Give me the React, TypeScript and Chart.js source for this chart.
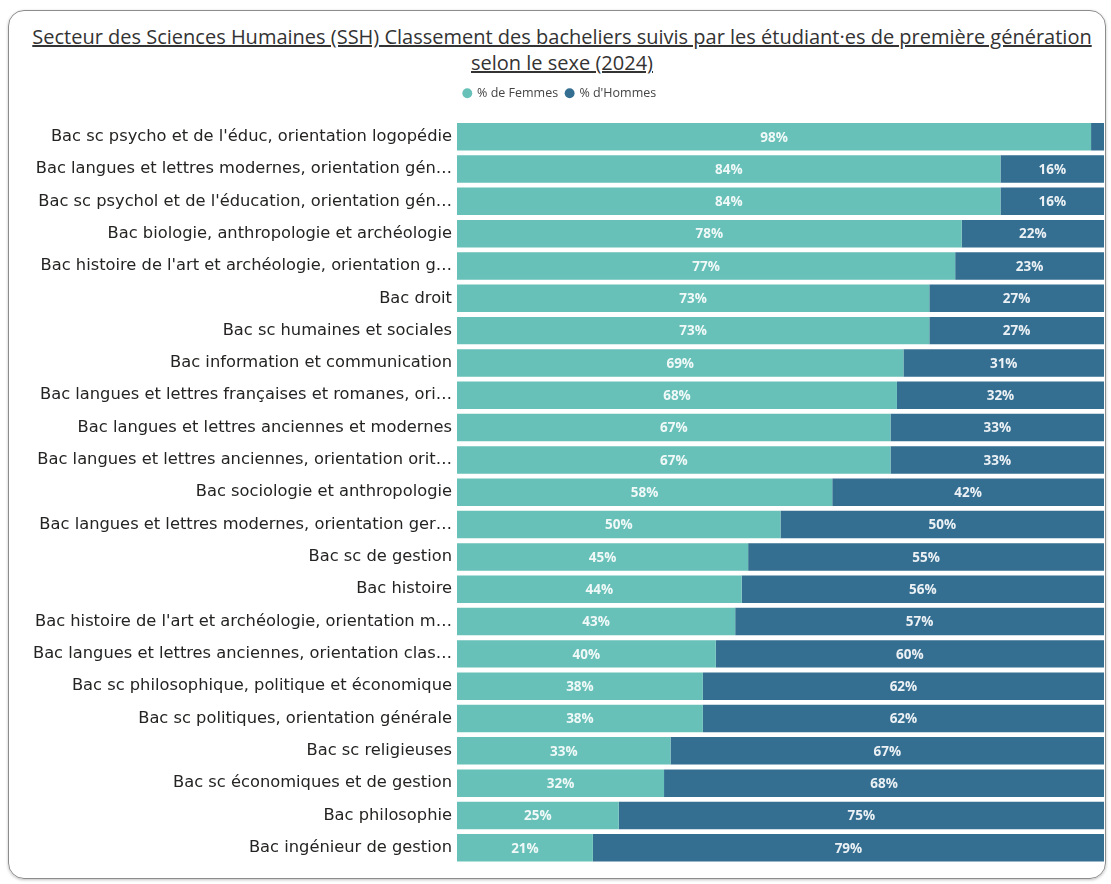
import React, { useEffect, useRef } from "react";
import { Chart, registerables } from "chart.js";

Chart.register(...registerables);

const titleLine1 =
  "Secteur des Sciences Humaines (SSH) Classement des bacheliers suivis par les étudiant·es de première génération";
const titleLine2 = "selon le sexe (2024)";

const categories = [
  "Bac sc psycho et de l'éduc, orientation logopédie",
  "Bac langues et lettres modernes, orientation gén…",
  "Bac sc psychol et de l'éducation, orientation gén…",
  "Bac biologie, anthropologie et archéologie",
  "Bac histoire de l'art et archéologie, orientation g…",
  "Bac droit",
  "Bac sc humaines et sociales",
  "Bac information et communication",
  "Bac langues et lettres françaises et romanes, ori…",
  "Bac langues et lettres anciennes et modernes",
  "Bac langues et lettres anciennes, orientation orit…",
  "Bac sociologie et anthropologie",
  "Bac langues et lettres modernes, orientation ger…",
  "Bac sc de gestion",
  "Bac histoire",
  "Bac histoire de l'art et archéologie, orientation m…",
  "Bac langues et lettres anciennes, orientation clas…",
  "Bac sc philosophique, politique et économique",
  "Bac sc politiques, orientation générale",
  "Bac sc religieuses",
  "Bac sc économiques et de gestion",
  "Bac philosophie",
  "Bac ingénieur de gestion",
];

const femmes = [98, 84, 84, 78, 77, 73, 73, 69, 68, 67, 67, 58, 50, 45, 44, 43, 40, 38, 38, 33, 32, 25, 21];
const hommes = [2, 16, 16, 22, 23, 27, 27, 31, 32, 33, 33, 42, 50, 55, 56, 57, 60, 62, 62, 67, 68, 75, 79];

const seriesLabels = ["% de Femmes", "% d'Hommes"];
const seriesColors = ["#67C1B8", "#346E91"];

const barLabelPlugin = {
  id: "barLabels",
  afterDatasetsDraw(chart: any) {
    const ctx = chart.ctx;
    ctx.save();
    ctx.font = "bold 13.5px 'Open Sans'";
    ctx.fillStyle = "rgba(255,255,255,0.9)";
    ctx.textAlign = "center";
    ctx.textBaseline = "middle";
    chart.data.datasets.forEach((ds: any, di: number) => {
      const meta = chart.getDatasetMeta(di);
      meta.data.forEach((bar: any, i: number) => {
        const v = ds.data[i];
        const { x, base, y } = bar.getProps(["x", "base", "y"], true);
        const w = Math.abs(x - base);
        if (w < 30) return;
        ctx.fillText(v + "%", (x + base) / 2, y + 1);
      });
    });
    ctx.restore();
  },
};

const legendMarginPlugin = {
  id: "legendMargin",
  beforeInit(chart: any) {
    const legend = chart.legend;
    if (!legend) return;
    const origFit = legend.fit;
    legend.fit = function () {
      origFit.call(this);
      this.height += 11;
    };
  },
};

export default function App() {
  const canvasRef = useRef<HTMLCanvasElement | null>(null);

  useEffect(() => {
    document.body.style.margin = "0";
    document.body.style.overflow = "hidden";
    const canvas = canvasRef.current;
    if (!canvas) return;
    const chart = new Chart(canvas, {
      type: "bar",
      data: {
        labels: categories,
        datasets: [
          {
            label: seriesLabels[0],
            data: femmes,
            backgroundColor: seriesColors[0],
            barPercentage: 1,
            categoryPercentage: 0.85,
          },
          {
            label: seriesLabels[1],
            data: hommes,
            backgroundColor: seriesColors[1],
            barPercentage: 1,
            categoryPercentage: 0.85,
          },
        ],
      },
      options: {
        indexAxis: "y",
        animation: false,
        responsive: true,
        maintainAspectRatio: false,
        layout: { padding: { top: 79, left: 16, right: 7, bottom: 20 } },
        plugins: {
          title: { display: false },
          tooltip: { enabled: false },
          legend: {
            display: true,
            position: "top",
            labels: {
              usePointStyle: true,
              pointStyle: "circle",
              boxWidth: 7,
              boxHeight: 7,
              padding: 8,
              color: "#444",
              font: { family: "'Open Sans'", size: 12.5 },
            },
          },
        },
        scales: {
          x: {
            stacked: true,
            min: 0,
            max: 100,
            display: false,
            grid: { display: false },
          },
          y: {
            stacked: true,
            grid: { display: false, drawTicks: false },
            border: { display: false },
            afterFit: (scale: any) => {
              scale.width = 441;
            },
            ticks: {
              color: "#252423",
              padding: 5,
              autoSkip: false,
              font: { family: "'DejaVu Sans'", size: 16.3 },
            },
          },
        },
      },
      plugins: [legendMarginPlugin, barLabelPlugin],
    });
    return () => chart.destroy();
  }, []);

  return (
    <div style={{ position: "relative", width: 1111, height: 884, background: "#fff" }}>
      <div
        style={{
          position: "absolute",
          left: 8,
          top: 10,
          width: 1098,
          height: 869,
          border: "1.5px solid #8c8c8c",
          borderRadius: 16,
          boxShadow: "0 1px 3px rgba(0,0,0,0.25)",
          boxSizing: "border-box",
        }}
      />
      <div
        style={{
          position: "absolute",
          left: 20,
          top: 24,
          width: 1084,
          textAlign: "center",
          fontFamily: "'Open Sans', sans-serif",
          fontSize: 20,
          lineHeight: "26px",
          color: "#333",
          textDecoration: "underline",
        }}
      >
        <div>{titleLine1}</div>
        <div>{titleLine2}</div>
      </div>
      <canvas
        ref={canvasRef}
        style={{ position: "absolute", left: 0, top: 0, width: 1111, height: 884 }}
      />
    </div>
  );
}
